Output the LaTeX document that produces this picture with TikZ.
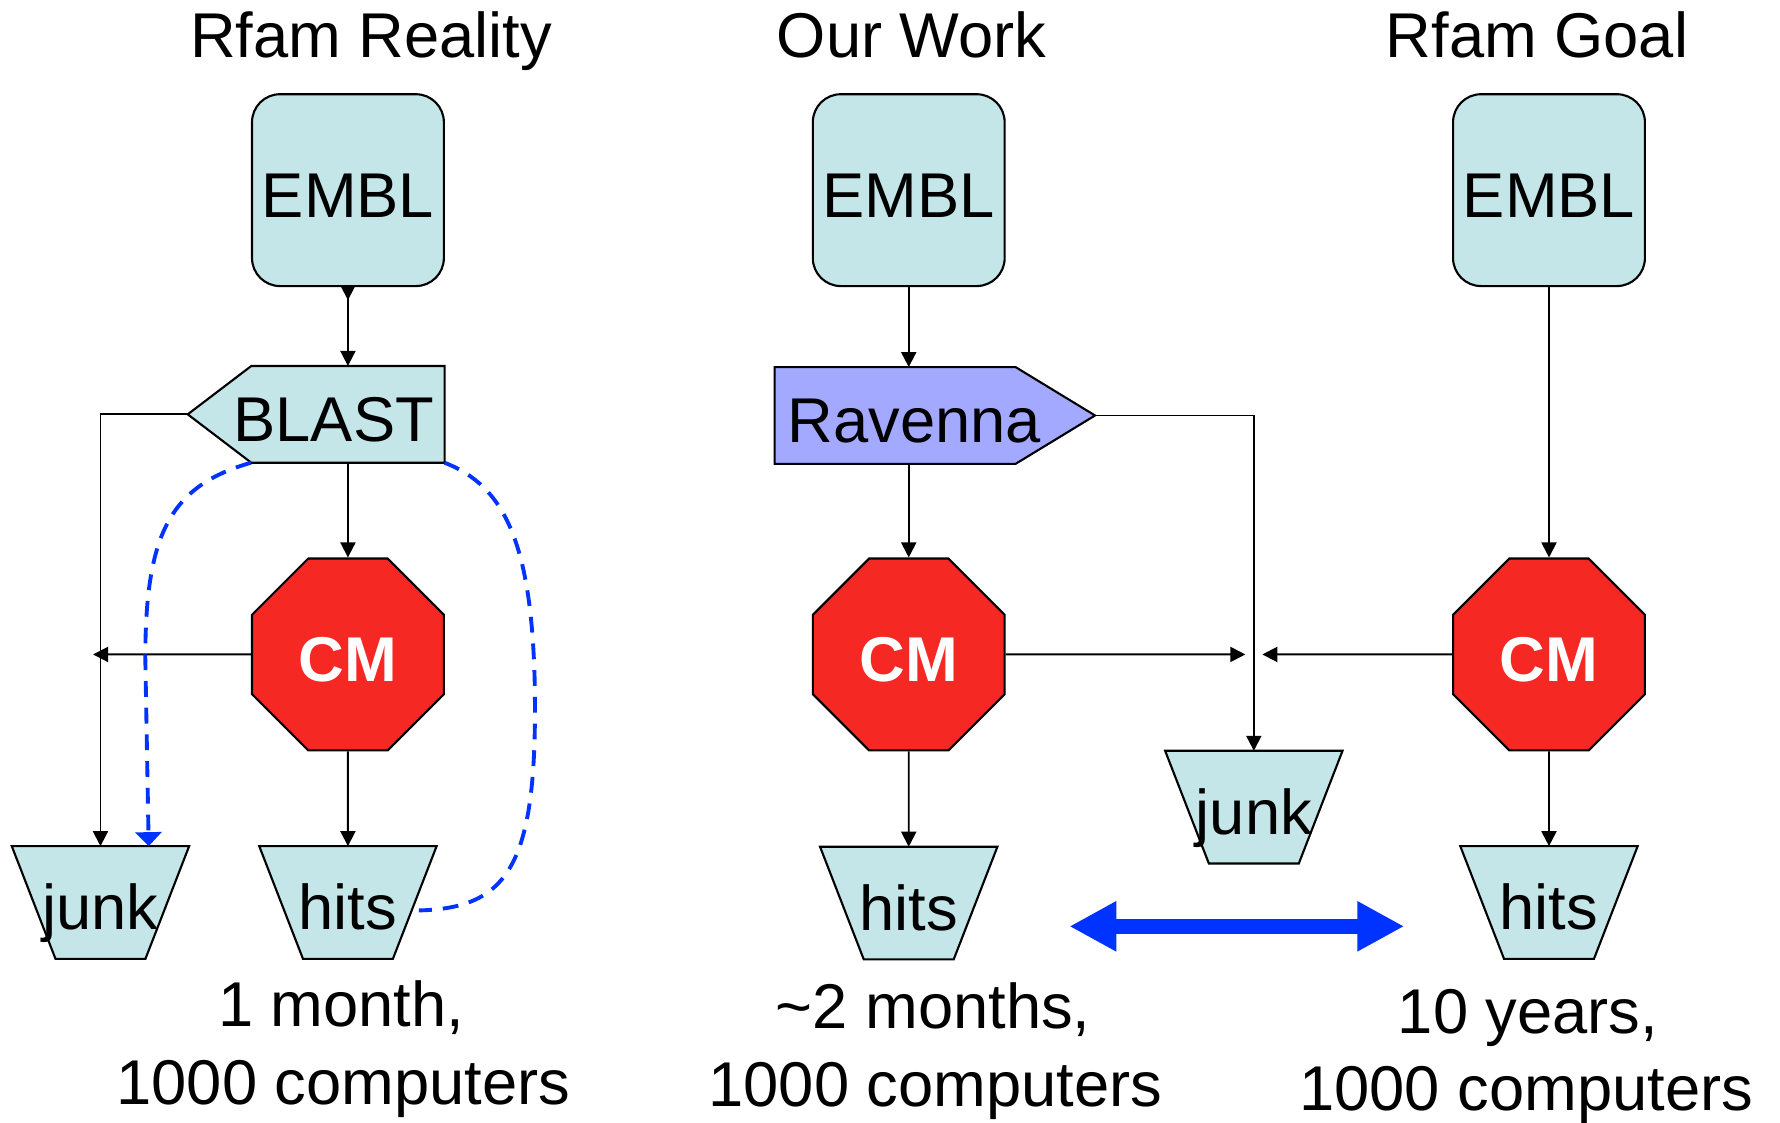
\documentclass[tikz,border=0pt]{standalone}
\usepackage{fontspec}
\setmainfont{Liberation Sans}
\usetikzlibrary{arrows.meta,shapes.geometric,backgrounds,calc}
\definecolor{boxfill}{RGB}{196,230,232}
\definecolor{cmred}{RGB}{245,40,35}
\definecolor{ravfill}{RGB}{162,169,255}
\definecolor{arrblue}{RGB}{0,51,255}
\begin{document}
\begin{tikzpicture}[x=0.011352cm, y=-0.011352cm,
  font=\fontsize{18}{21.6}\selectfont,
  lbl/.style={inner sep=0pt, text height=15.6pt, text depth=0pt},
  embl/.style={rectangle, rounded corners=0.28cm, draw=black, line width=0.6pt, fill=boxfill,
    minimum width=1.9185cm, minimum height=1.9185cm, inner sep=0pt, text height=15.6pt, text depth=0pt},
  cmoct/.style={regular polygon, regular polygon sides=8, minimum size=2.0763cm, inner sep=0pt,
    draw=black, line width=0.6pt, fill=cmred, text=white,
    font=\fontsize{18}{21.6}\selectfont\bfseries, text height=15.2pt, text depth=0pt},
  trap/.style={rectangle, minimum width=1.7596cm, minimum height=1.1125cm, inner sep=0pt,
    text height=15.6pt, text depth=0pt},
  shapedraw/.style={draw=black, line width=0.6pt, fill=boxfill},
  conn/.style={line width=0.55pt, -{Triangle[length=1.5mm,width=1.5mm]}},
  dashconn/.style={draw=arrblue, line width=1.1pt, dash pattern=on 4.5pt off 3.1pt},
  title/.style={anchor=base, inner sep=0pt},
  bigarrow/.style={draw=arrblue, line width=4.1pt,
    {Triangle[length=4.7mm,width=4.7mm]}-{Triangle[length=4.7mm,width=4.7mm]}}
]
\path[use as bounding box] (0,0) rectangle (1568,989);
\begin{pgfonlayer}{background}
\fill[white] (0,0) rectangle (1568,989);
\end{pgfonlayer}

% titles
\node[title] (title1) at (327,50.5) {Rfam Reality};
\node[title] (title2) at (803,50.5) {Our Work};
\node[title] (title3) at (1354,50.5) {Rfam Goal};

% EMBL boxes
\node[embl] (embl1) at (306.5,167.5) {EMBL};
\node[embl] (embl2) at (800.5,167.5) {EMBL};
\node[embl] (embl3) at (1364.5,167.5) {EMBL};

% BLAST (pointing left)
\node[rectangle, minimum width=2.5542cm, minimum height=0.9536cm, inner sep=0pt] (blast) at (278.5,365) {};
\begin{pgfonlayer}{background}
\filldraw[shapedraw] (blast.west) -- ([xshift=0.6357cm]blast.north west) -- (blast.north east)
  -- (blast.south east) -- ([xshift=0.6357cm]blast.south west) -- cycle;
\end{pgfonlayer}
\node[lbl] (blastlbl) at (294,365) {BLAST};

% Ravenna (pointing right)
\node[rectangle, minimum width=3.1899cm, minimum height=0.9536cm, inner sep=0pt] (rav) at (823.5,366) {};
\begin{pgfonlayer}{background}
\filldraw[draw=black, line width=0.6pt, fill=ravfill] (rav.north west) -- ([xshift=-0.7946cm]rav.north east)
  -- (rav.east) -- ([xshift=-0.7946cm]rav.south east) -- (rav.south west) -- cycle;
\end{pgfonlayer}
\node[lbl] (ravlbl) at (805.5,366) {Ravenna};

% CM octagons
\node[cmoct] (cm1) at (306.5,576.5) {CM};
\node[cmoct] (cm2) at (800.5,576.5) {CM};
\node[cmoct] (cm3) at (1364.5,576.5) {CM};

% trapezoids
\node[trap] (junk1) at (88.5,795) {junk};
\node[trap] (hits1) at (306.5,795) {hits};
\node[trap] (hits2) at (800.5,795.5) {hits};
\node[trap] (junk2) at (1104.5,711) {junk};
\node[trap] (hits3) at (1364.5,795) {hits};
\begin{pgfonlayer}{background}
\foreach \n in {junk1,hits1,hits2,junk2,hits3}{
  \filldraw[shapedraw] (\n.north west) -- (\n.north east) -- ([xshift=-0.437cm]\n.south east)
    -- ([xshift=0.437cm]\n.south west) -- cycle;
}
\end{pgfonlayer}

% free ends
\coordinate (cm1out) at (82,576.5);
\coordinate (cm2out) at (1097,576.5);
\coordinate (cm3out) at (1112,576.5);
\coordinate (hitsAr) at (369,802);
\coordinate (blL) at (942,816);
\coordinate (blR) at (1237,816);

% column 1 connectors
\draw[line width=0.55pt, {Triangle[reversed,length=1.3mm,width=1.3mm]}-{Triangle[length=1.5mm,width=1.5mm]}]
  (embl1.south) -- (embl1.south |- blast.north);
\draw[conn] (cm1.north |- blast.south) -- (cm1.north);
\draw[conn] (blast.west) -| (junk1.north);
\draw[conn] (cm1.west) -- (cm1out);
\draw[conn] (cm1.south) -- (hits1.north);
\draw[dashconn, -{Triangle[length=1.4mm,width=2.6mm]}] (embl1.west |- blast.south)
  .. controls (150,428) and (128,470) .. (128,580) -- ([xshift=0.4825cm]junk1.north);
\draw[dashconn] (blast.south east) .. controls (445,428) and (468,480) .. (471,600)
  .. controls (474,760) and (450,800) .. (hitsAr);

% column 2 connectors
\draw[conn] (embl2.south) -- (embl2.south |- rav.north);
\draw[conn] (cm2.north |- rav.south) -- (cm2.north);
\draw[conn] (rav.east) -| (junk2.north);
\draw[conn] (cm2.east) -- (cm2out);
\draw[conn] (cm2.south) -- (hits2.north);

% column 3 connectors
\draw[conn] (embl3.south) -- (cm3.north);
\draw[conn] (cm3.west) -- (cm3out);
\draw[conn] (cm3.south) -- (hits3.north);

% blue double arrow
\draw[bigarrow] (blL) -- (blR);

% bottom texts
\node[title] (time1) at (300.5,904) {1 month,};
\node[title] (comp1) at (302.5,973) {1000 computers};
\node[title] (time2) at (822,906) {\textasciitilde 2 months,};
\node[title] (comp2) at (824,975) {1000 computers};
\node[title] (time3) at (1346,910) {10 years,};
\node[title] (comp3) at (1344.5,978) {1000 computers};
\end{tikzpicture}
\end{document}
